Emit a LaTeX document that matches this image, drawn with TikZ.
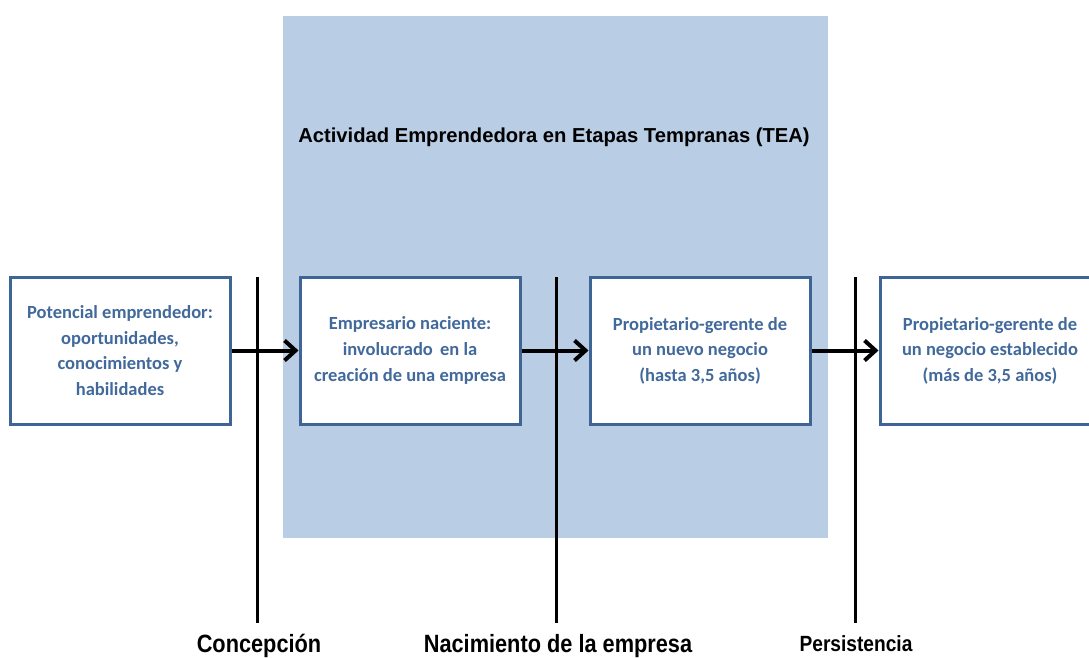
\documentclass[tikz,border=0pt]{standalone}
\usepackage{fontspec}
\setmainfont{Liberation Sans}
\newfontfamily\boxfont{Carlito}
\newfontfamily\narrowfont[FakeStretch=0.87]{Liberation Sans}
\usetikzlibrary{arrows.meta}
\definecolor{teafill}{HTML}{B9CDE5}
\definecolor{boxline}{HTML}{3F6496}
\definecolor{boxtext}{HTML}{41699B}
\tikzset{
  stagebox/.style={draw=boxline, line width=3pt, fill=white, minimum width=220pt, minimum height=147pt,
    align=center, text=boxtext, font=\boxfont\bfseries\fontsize{18.5}{25.6}\selectfont, inner sep=0pt},
  flowarrow/.style={line width=4pt, -{Straight Barb[length=11pt,width=20pt,line width=4pt]}},
  divider/.style={line width=3pt},
  phaselabel/.style={anchor=base, font=\narrowfont\bfseries\fontsize{25}{30}\selectfont},
}
\begin{document}
\begin{tikzpicture}[x=1pt,y=-1pt]
\useasboundingbox (0,0) rectangle (1089,657);
\clip (0,0) rectangle (1089,657);
\fill[teafill] (283,16) rectangle (828,538);
\node[anchor=base, font=\bfseries\fontsize{20.2}{24}\selectfont] (title) at (554,142) {Actividad Emprendedora en Etapas Tempranas (TEA)};

\coordinate (d1t) at (257,277); \coordinate (d1b) at (257,623);
\coordinate (d2t) at (556,277); \coordinate (d2b) at (556,623);
\coordinate (d3t) at (855,277); \coordinate (d3b) at (855,623);
\draw[divider] (d1t) -- (d1b);
\draw[divider] (d2t) -- (d2b);
\draw[divider] (d3t) -- (d3b);

\node[stagebox] (b1) at (120,350.5) {Potencial emprendedor:\\oportunidades,\\conocimientos y\\habilidades};
\node[stagebox] (b2) at (410,350.5) {Empresario naciente:\\involucrado\, en la\\creación de una empresa};
\node[stagebox] (b3) at (700,350.5) {Propietario-gerente de\\un nuevo negocio\\(hasta 3,5 años)};
\node[stagebox] (b4) at (990,350.5) {Propietario-gerente de\\un negocio establecido\\(más de 3,5 años)};

\draw[flowarrow] (b1.east) -- (b2.west);
\draw[flowarrow] (b2.east) -- (b3.west);
\draw[flowarrow] (b3.east) -- (b4.west);

\node[phaselabel] (l1) at (259,652) {Concepción};
\node[phaselabel] (l2) at (558,652) {Nacimiento de la empresa};
\node[phaselabel, font=\narrowfont\bfseries\fontsize{22}{26}\selectfont] (l3) at (856,651) {Persistencia};
\end{tikzpicture}
\end{document}
